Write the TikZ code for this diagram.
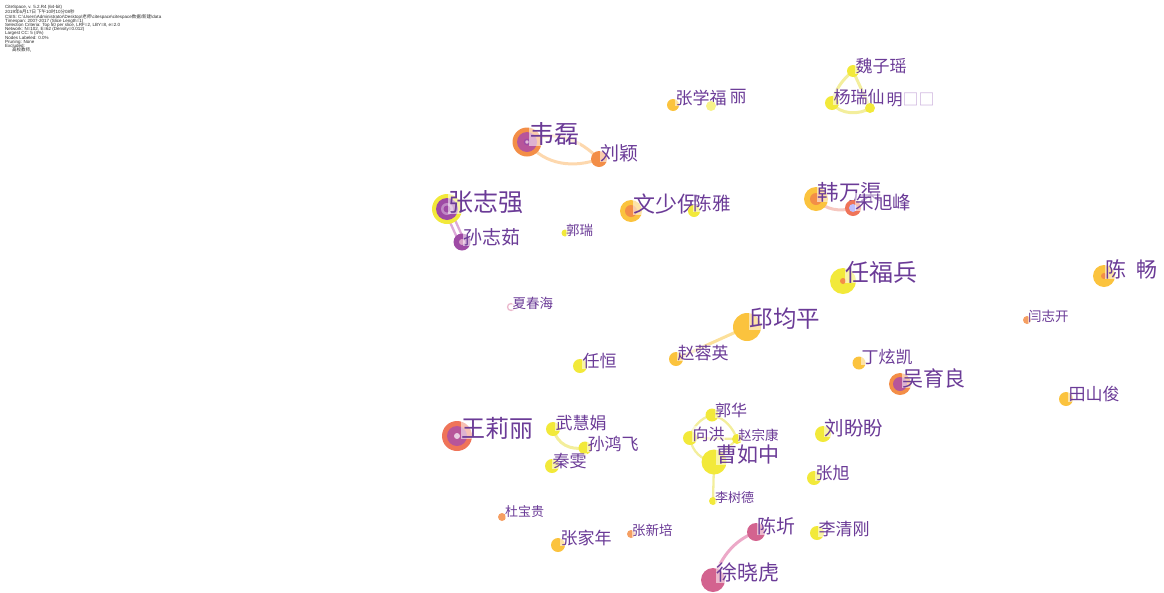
\documentclass[tikz,border=0pt]{standalone}
\usepackage{fontspec}
\setmainfont{Liberation Sans}
\newfontfamily\cjk{Noto Sans CJK SC}
\definecolor{cY}{HTML}{F2E93A}
\definecolor{cYO}{HTML}{FBC33E}
\definecolor{cO}{HTML}{F38E47}
\definecolor{cR}{HTML}{EF7459}
\definecolor{cP}{HTML}{9E4AA5}
\definecolor{cM}{HTML}{B7559A}
\definecolor{cPk}{HTML}{D3638F}
\definecolor{labc}{HTML}{6B3B97}
\definecolor{boxc}{HTML}{C4A6D8}
\definecolor{eO}{HTML}{FDD8AE}
\definecolor{ePu}{HTML}{DDA8D8}
\definecolor{eY}{HTML}{F3EE9C}
\definecolor{ePk}{HTML}{F6C8C0}
\definecolor{eYO}{HTML}{FCE09A}
\definecolor{ePink}{HTML}{ECA9C8}
\definecolor{hdrc}{HTML}{2A2A2A}
\pgfdeclarelayer{bg}
\pgfsetlayers{bg,main}
\tikzset{
  dot/.style={circle,inner sep=0pt,draw=none},
  lbl/.style={anchor=west,inner sep=0.3pt,text=labc,fill=white,fill opacity=0.55,text opacity=1},
  edg/.style={line width=3pt,line cap=round},
  edgs/.style={line width=2.3pt,line cap=round},
}
\newcommand\authlab[5]{\node[lbl,font=\cjk\fontsize{#4pt}{#4pt}\selectfont] (#1) at (#2,#3) {#5};}
\begin{document}
\begin{tikzpicture}[x=1pt,y=-1pt]
\useasboundingbox (0,0) rectangle (1164,592);
% header
\node[anchor=north west,inner sep=0pt,align=left,text=hdrc,font=\fontsize{4.5pt}{4.2pt}\selectfont] (hdr) at (5,4.8) {%
CiteSpace, v. 5.2.R4 (64-bit)\\
2019{\cjk 年}6{\cjk 月}17{\cjk 日 下午}10{\cjk 时}10{\cjk 分}08{\cjk 秒}\\
CSIS: C:\textbackslash Users\textbackslash Administrator\textbackslash Desktop\textbackslash{\cjk 老师}\textbackslash citespace\textbackslash citespace{\cjk 数据}\textbackslash{\cjk 新建}\textbackslash data\\
Timespan: 2007-2017 (Slice Length=1)\\
Selection Criteria: Top 50 per slice, LRF=2, LBY=8, e=2.0\\
Network: N=102, E=62 (Density=0.012)\\
Largest CC: 5 (4\%)\\
Nodes Labeled: 0.0\%\\
Pruning: None\\
Excluded:\\
\hspace{7pt}{\cjk 高校教师,}};

% ---- nodes ----
\node[dot,fill=cO,minimum size=29pt] (wl) at (527,142) {};
\fill[cM] (wl.center) circle (10pt);
\filldraw[draw=cP,fill=cM!40!white,line width=1.4pt] (wl.center) circle (2.6pt);
\authlab{wlT}{529}{134}{25}{韦磊}

\node[dot,fill=cO,minimum size=16pt] (ly) at (599,159) {};
\authlab{lyT}{600}{153}{19}{刘颖}

\node[dot,fill=cY,minimum size=30pt] (zzq) at (447,209) {};
\fill[cP] (zzq.center) circle (11pt);
\fill[cP!65!white] (zzq.center) circle (6pt);
\fill[cP] (zzq.center) circle (3.5pt);
\authlab{zzqT}{448}{202}{25}{张志强}

\node[dot,fill=cP,minimum size=17pt] (szr) at (462,242) {};
\fill[cM!55!white] (szr.center) circle (3pt);
\authlab{szrT}{463}{237}{19}{孙志茹}

\node[dot,fill=cY,minimum size=7pt] (gr) at (565,233) {};
\authlab{grT}{565.5}{230}{13.5}{郭瑞}

\node[dot,fill=cYO,minimum size=22pt] (wsb) at (631,211) {};
\fill[cO] (wsb.center) circle (6pt);
\authlab{wsbT}{633}{204}{22}{文少保}

\node[dot,fill=cY,minimum size=12pt] (cy) at (694,211) {};
\authlab{cyT}{693}{203}{18.5}{陈雅}

\node[dot,fill=cYO,minimum size=12pt] (zxf) at (673,105) {};
\authlab{zxfT}{675}{98}{17}{张学福}

\node[dot,fill=cY!60!white,minimum size=10pt] (li) at (711,106) {};
\authlab{liT}{729}{97}{17}{丽}

\node[dot,fill=cY,minimum size=12pt] (wzy) at (853,71) {};
\authlab{wzyT}{855}{66}{17}{魏子瑶}

\node[dot,fill=cY,minimum size=14pt] (yrx) at (832,103) {};
\authlab{yrxT}{833}{97}{17}{杨瑞仙}

\node[dot,fill=cY,minimum size=10pt] (ming) at (870,108) {};
\authlab{mingT}{886}{100}{16}{明\textcolor{boxc}{□□}}

\node[dot,fill=cYO,minimum size=24pt] (hwq) at (816,199) {};
\fill[cO] (hwq.center) circle (6pt);
\authlab{hwqT}{817}{192}{21.5}{韩万渠}

\node[dot,fill=cR,minimum size=16pt] (zxfeng) at (853,208) {};
\fill[blue!25!white] (zxfeng.center) circle (4pt);
\authlab{zxfengT}{855}{202}{18.5}{朱旭峰}

\node[dot,fill=cY,minimum size=26pt] (rfb) at (843,281) {};
\fill[cO] (rfb.center) circle (3pt);
\authlab{rfbT}{845}{272}{24}{任福兵}

\node[dot,fill=cYO,minimum size=22pt] (cc) at (1104,276) {};
\fill[cO] (cc.center) circle (3pt);
\authlab{ccT}{1105}{269}{21}{陈\hspace{10pt}畅}

\node[dot,draw=cPk!45!white,fill=white,line width=1.3pt,minimum size=7pt] (xch) at (511,307) {};
\authlab{xchT}{512}{303}{13.5}{夏春海}

\node[dot,fill=cYO,minimum size=28pt] (qjp) at (747,327) {};
\authlab{qjpT}{749}{319}{23.5}{邱均平}

\node[dot,fill=cYO,minimum size=14pt] (zry) at (676,359) {};
\authlab{zryT}{677}{353}{17}{赵蓉英}

\node[dot,fill=cY,minimum size=14pt] (rh) at (580,366) {};
\authlab{rhT}{582}{361}{17}{任恒}

\node[dot,fill=cYO,minimum size=13pt] (dxk) at (859,363) {};
\authlab{dxkT}{861}{357}{17}{丁炫凯}

\node[dot,fill=cO,minimum size=22pt] (wyl) at (900,384) {};
\fill[cM] (wyl.center) circle (7pt);
\authlab{wylT}{902}{378}{21}{吴育良}

\node[dot,fill=cO!85!white,minimum size=8pt] (yzk) at (1027,320) {};
\authlab{yzkT}{1027.5}{316}{13.5}{闫志开}

\node[dot,fill=cYO,minimum size=14pt] (tsj) at (1066,399) {};
\authlab{tsjT}{1068}{394}{17}{田山俊}

\node[dot,fill=cR,minimum size=30pt] (wll) at (457,436) {};
\fill[cM] (wll.center) circle (10pt);
\fill[cM!30!white] (wll.center) circle (3pt);
\authlab{wllT}{461}{428}{24}{王莉丽}

\node[dot,fill=cY,minimum size=14pt] (whj) at (553,429) {};
\authlab{whjT}{555}{423}{17}{武慧娟}

\node[dot,fill=cY,minimum size=13pt] (shf) at (585,448) {};
\authlab{shfT}{587}{444}{17}{孙鸿飞}

\node[dot,fill=cY,minimum size=14pt] (qw) at (552,466) {};
\authlab{qwT}{552}{461}{17}{秦雯}

\node[dot,fill=cY,minimum size=13pt] (gh) at (712,415) {};
\authlab{ghT}{714.5}{410}{16}{郭华}

\node[dot,fill=cY,minimum size=14pt] (xh) at (690,438) {};
\authlab{xhT}{692}{434}{16}{向洪}

\node[dot,fill=cY,minimum size=10pt] (zzk) at (737,439) {};
\authlab{zzkT}{737.5}{435}{13.5}{赵宗康}

\node[dot,fill=cY,minimum size=25pt] (crz) at (714,462) {};
\authlab{crzT}{716}{455}{21}{曹如中}

\node[dot,fill=cY,minimum size=8pt] (lsd) at (713,501) {};
\authlab{lsdT}{714.5}{498}{13}{李树德}

\node[dot,fill=cY,minimum size=16pt] (lpp) at (823,434) {};
\authlab{lppT}{824}{428}{19.5}{刘盼盼}

\node[dot,fill=cY,minimum size=14pt] (zx) at (814,478) {};
\authlab{zxT}{815}{473}{17}{张旭}

\node[dot,fill=cO!85!white,minimum size=8pt] (dbg) at (502,517) {};
\authlab{dbgT}{504.5}{512}{13}{杜宝贵}

\node[dot,fill=cYO,minimum size=14pt] (zjn) at (558,545) {};
\authlab{zjnT}{560}{538}{17}{张家年}

\node[dot,fill=cO!85!white,minimum size=8pt] (zxp) at (631,534) {};
\authlab{zxpT}{631.5}{530}{13.5}{张新培}

\node[dot,fill=cPk,minimum size=18pt] (cq) at (756,532) {};
\authlab{cqT}{757}{526}{19}{陈圻}

\node[dot,fill=cY,minimum size=14pt] (lqg) at (817,533) {};
\authlab{lqgT}{818}{529}{17}{李清刚}

\node[dot,fill=cPk,minimum size=24pt] (xxh) at (713,580) {};
\authlab{xxhT}{716}{573}{21}{徐晓虎}

% ---- edges ----
\begin{pgfonlayer}{bg}
\draw[edg,eO] (wl.center) .. controls (545,166) and (575,168) .. (ly.center);
\draw[edg,eO] (wl.center) .. controls (555,128) and (580,140) .. (ly.center);
\draw[edgs,ePu] ([xshift=-3pt]zzq.center) -- ([xshift=-3pt]szr.center);
\draw[edgs,ePu] ([xshift=3pt]zzq.center) -- ([xshift=3pt]szr.center);
\draw[edg,eY] (wzy.center) .. controls (842,80) and (835,90) .. (yrx.center);
\draw[edg,eY] (wzy.center) -- (ming.center);
\draw[edg,eY] (yrx.center) .. controls (840,115) and (860,115) .. (ming.center);
\draw[edg,ePk] (hwq.center) .. controls (825,210) and (840,212) .. (zxfeng.center);
\draw[edg,eYO] (qjp.center) -- (zry.center);
\draw[edg,eY] (whj.center) .. controls (558,445) and (570,450) .. (shf.center);
\draw[edgs,eY] (gh.center) .. controls (725,418) and (733,428) .. (zzk.center);
\draw[edgs,eY] (gh.center) .. controls (700,418) and (692,428) .. (xh.center);
\draw[edgs,eY] (xh.center) -- (zzk.center);
\draw[edgs,eY] (xh.center) .. controls (692,452) and (702,460) .. (crz.center);
\draw[edgs,eY] (crz.center) -- (zzk.center);
\draw[edgs,eY] (crz.center) -- (lsd.center);
\draw[edg,ePink] (cq.center) .. controls (735,540) and (722,555) .. (xxh.center);
\end{pgfonlayer}
\end{tikzpicture}
\end{document}
